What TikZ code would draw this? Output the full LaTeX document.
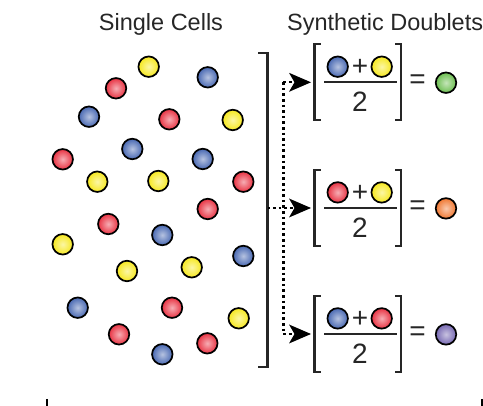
\documentclass[tikz,border=0pt]{standalone}
\usepackage{fontspec}
\setmainfont{Liberation Sans}
\definecolor{cblue}{RGB}{72,104,178}
\definecolor{cred}{RGB}{232,50,66}
\definecolor{cyel}{RGB}{246,232,30}
\definecolor{cgreen}{RGB}{108,190,80}
\definecolor{corange}{RGB}{240,120,50}
\definecolor{cpurple}{RGB}{118,104,178}
\tikzset{
  cell/.style={circle, draw=black, line width=1.7pt, minimum size=20.5pt,
    inner sep=0pt, shading=radial, inner color=#1!40!white, outer color=#1},
  title/.style={font=\fontsize{23.5}{26}\selectfont, text=black!85, inner sep=0pt},
  bigsym/.style={font=\fontsize{28}{30}\selectfont, text=black!85, inner sep=0pt},
  brk/.style={line width=2.3pt, black!85},
  fracline/.style={line width=1.8pt, black!85},
  dots/.style={line width=2.4pt, dash pattern=on 2.6pt off 3pt, black},
  headfill/.style={fill=black, line join=miter},
}
\begin{document}
\begin{tikzpicture}[x=1pt, y=-1pt]
\useasboundingbox (0,0) rectangle (483,406);
% titles
\node[title, anchor=base] (t1) at (161,31) {Single Cells};
\node[title, anchor=base west] (t2) at (287,31) {Synthetic Doublets};
% single cells
\node[cell=cyel]  (y1) at (148.7,66.7) {};
\node[cell=cblue] (b1) at (207.7,77.3) {};
\node[cell=cred]  (r1) at (116,88.3) {};
\node[cell=cblue] (b2) at (89,116.7) {};
\node[cell=cred]  (r2) at (169.3,119.3) {};
\node[cell=cyel]  (y2) at (232.7,120) {};
\node[cell=cblue] (b3) at (132.3,149) {};
\node[cell=cred]  (r3) at (62.7,159.3) {};
\node[cell=cblue] (b4) at (202.7,159) {};
\node[cell=cyel]  (y3) at (97.3,181.7) {};
\node[cell=cyel]  (y4) at (158.3,181) {};
\node[cell=cred]  (r4) at (243.3,181.7) {};
\node[cell=cred]  (r5) at (207.7,209) {};
\node[cell=cred]  (r6) at (108.3,224) {};
\node[cell=cblue] (b5) at (162.3,235) {};
\node[cell=cyel]  (y5) at (62.7,244.3) {};
\node[cell=cblue] (b6) at (243.3,256) {};
\node[cell=cyel]  (y6) at (127,271) {};
\node[cell=cyel]  (y7) at (191.7,267.3) {};
\node[cell=cblue] (b7) at (77.7,307.7) {};
\node[cell=cred]  (r7) at (172,307.7) {};
\node[cell=cyel]  (y8) at (238.7,318.3) {};
\node[cell=cred]  (r8) at (119,334.3) {};
\node[cell=cred]  (r9) at (207.3,343.3) {};
\node[cell=cblue] (b8) at (162.3,354.3) {};
% big bracket
\coordinate (bt) at (258,53);
\coordinate (bb) at (258,367);
\draw[brk] (bt) -- (267.5,53) -- (267.5,367) -- (bb);
\coordinate (bm) at (267.5,208);
% dotted vertical
\coordinate (v1) at (283.3,82.3);
\coordinate (v3) at (283.3,334);
\draw[dots] (v1) -- (v3);
% doublet rows
\foreach \i/\c/\ca/\cb/\cr in {1/82.3/cblue/cyel/cgreen, 2/208/cred/cyel/corange, 3/334/cblue/cred/cpurple}{
  \coordinate (L\i) at (311,\c);
  \coordinate (A\i) at (294,\c);
  \draw[brk] (320.7,\c-38.3) -- (314.5,\c-38.3) -- (314.5,\c+37.7) -- (320.7,\c+37.7);
  \draw[brk] (395,\c-38.3) -- (401,\c-38.3) -- (401,\c+37.7) -- (395,\c+37.7);
  \node[cell=\ca] (n\i a) at (337.7,\c-15.6) {};
  \node[bigsym] (p\i) at (360,\c-15) {+};
  \node[cell=\cb] (n\i b) at (381.7,\c-15.6) {};
  \draw[fracline] (324,\c) -- (396.7,\c);
  \node[bigsym] (d\i) at (360,\c+19.4) {2};
  \node[bigsym] (e\i) at (417.5,\c-0.5) {=};
  \node[cell=\cr] (res\i) at (446,\c+0.4) {};
  % arrowhead
  \fill[headfill] (L\i) -- ++(-22,-9.5) -- ++(5.5,9.5) -- ++(-5.5,9.5) -- cycle;
}
% dotted connectors
\draw[dots] (v1) -- (A1);
\draw[dots] (bm) -- (A2);
\draw[dots] (v3) -- (A3);
% bottom fragments
\coordinate (f1a) at (47,399);
\coordinate (f1b) at (47,406);
\coordinate (f2a) at (482,399);
\coordinate (f2b) at (482,406);
\draw[line width=2pt] (f1a) -- (f1b);
\draw[line width=2pt] (f2a) -- (f2b);
\end{tikzpicture}
\end{document}
